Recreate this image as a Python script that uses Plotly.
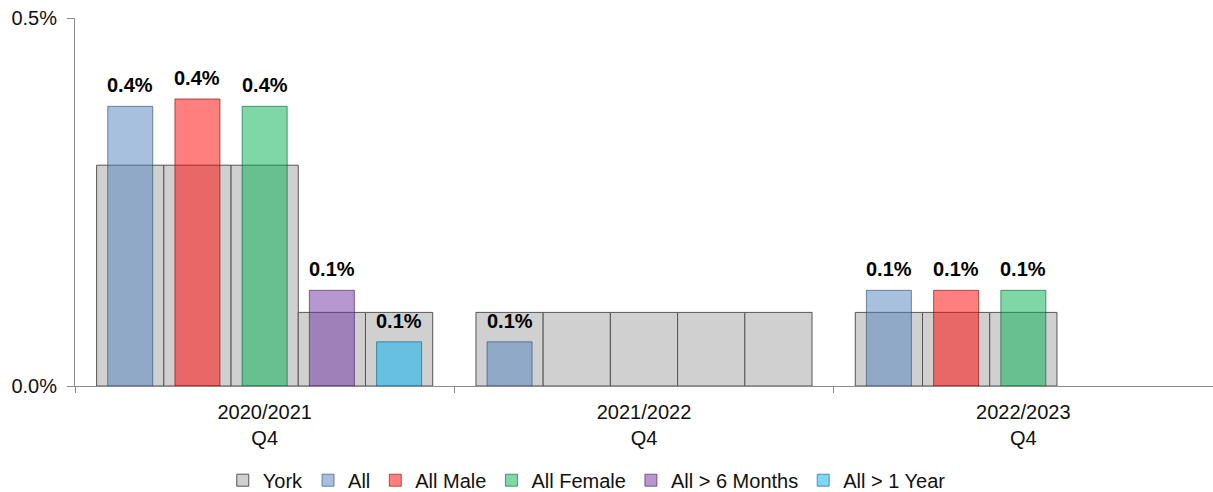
import plotly.graph_objects as go

categories = ["2020/2021<br>Q4", "2021/2022<br>Q4", "2022/2023<br>Q4"]
series_names = ["All", "All Male", "All Female", "All > 6 Months", "All > 1 Year"]

# York comparator per category, one value per series slot
york_2020 = [0.0030, 0.0030, 0.0030, 0.0010, 0.0010]
york_2021 = [0.0010, 0.0010, 0.0010, 0.0010, 0.0010]
york_2022 = [0.0010, 0.0010, 0.0010, None, None]

all_vals = [0.0038, 0.0006, 0.0013]
male_vals = [0.0039, None, 0.0013]
female_vals = [0.0038, None, 0.0013]
six_month_vals = [0.0013, None, None]
one_year_vals = [0.0006, None, None]

series_values = [all_vals, male_vals, female_vals, six_month_vals, one_year_vals]
york_values = [york_2020, york_2021, york_2022]

series_colors = [
    "rgba(79,129,189,0.5)",
    "rgba(255,0,0,0.5)",
    "rgba(0,176,80,0.5)",
    "rgba(112,48,160,0.5)",
    "rgba(0,176,240,0.5)",
]
series_lines = [
    "rgba(40,70,110,0.6)",
    "rgba(120,0,0,0.6)",
    "rgba(0,90,40,0.6)",
    "rgba(60,20,90,0.6)",
    "rgba(0,90,130,0.6)",
]

FONT = "Liberation Sans"

slot = 0.1772
grey_w = slot
col_w = 0.1186
n_series = len(series_names)

def pos(c, s):
    return c + 0.5 + (s - (n_series - 1) / 2) * slot

fig = go.Figure()

# York bars (behind)
yx, yy = [], []
for c, vals in enumerate(york_values):
    for s, v in enumerate(vals):
        yx.append(pos(c, s))
        yy.append(v)
fig.add_trace(go.Bar(
    name="York", x=yx, y=yy, width=[grey_w] * len(yx),
    marker=dict(color="#D0D0D0", line=dict(color="#555555", width=1)),
    hoverinfo="skip",
))

for s, (name, vals) in enumerate(zip(series_names, series_values)):
    xs = [pos(c, s) for c in range(len(categories))]
    fig.add_trace(go.Bar(
        name=name, x=xs, y=vals, width=[col_w] * len(xs),
        marker=dict(color=series_colors[s], line=dict(color=series_lines[s], width=1)),
        hoverinfo="skip",
    ))
    for x, v in zip(xs, vals):
        if v is None:
            continue
        fig.add_annotation(
            x=x, y=v, text=f"<b>{v:.1%}</b>", showarrow=False,
            xanchor="center", yanchor="bottom", yshift=8,
            font=dict(family=FONT, size=20, color="black"),
        )

fig.update_layout(
    barmode="overlay",
    width=1213, height=492,
    margin=dict(l=75, r=0, t=18, b=106, autoexpand=False),
    plot_bgcolor="white", paper_bgcolor="white",
    font=dict(family=FONT, size=20, color="#111111"),
    showlegend=True,
    legend=dict(orientation="h", x=0.4497, xanchor="center", y=-0.2560, yanchor="middle",
                font=dict(family=FONT, size=20), itemclick=False),
    xaxis=dict(
        range=[0, 3], tickvals=[0.5, 1.5, 2.5], ticktext=categories,
        ticks="", showgrid=False, zeroline=False, automargin=False,
        ticklabelstandoff=8,
        showline=True, linecolor="#8c8c8c", linewidth=1,
        minor=dict(tickvals=[0, 1, 2, 3], ticks="outside", ticklen=6, tickcolor="#8c8c8c"),
        tickfont=dict(family=FONT, size=20),
    ),
    yaxis=dict(
        range=[0, 0.005], tickvals=[0, 0.005], tickformat=".1%",
        ticks="outside", ticklen=7, tickcolor="#8c8c8c", automargin=False,
        ticklabelstandoff=6,
        showgrid=True, gridcolor="#8c8c8c", zeroline=False,
        showline=True, linecolor="#8c8c8c", linewidth=1,
        tickfont=dict(family=FONT, size=20),
    ),
)

fig.write_html(
    "out.html",
    config={"displayModeBar": False},
    post_script="document.body.style.margin='0';document.body.style.overflow='hidden';",
)
